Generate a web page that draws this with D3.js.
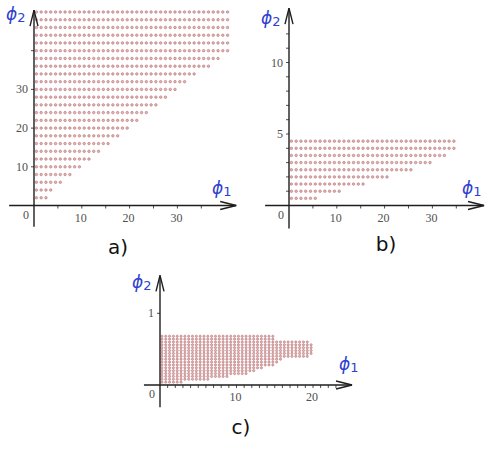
<!DOCTYPE html>
<html>
<head>
<meta charset="utf-8">
<script src="https://cdn.jsdelivr.net/npm/d3@7"></script>
<style>
  html, body { margin: 0; padding: 0; background: #ffffff; }
  svg { display: block; }
</style>
</head>
<body>
<svg id="chart" width="485" height="450"></svg>
<script>
// Panel a: grid rows (phi2) and the phi1 of the last dot in each row
const rowsA = [2, 4, 6, 8, 10, 12, 14, 16, 18, 20, 22, 24, 26, 28, 30, 32, 34, 36, 38, 40, 42, 44, 46, 48, 50];
const lastA = [2.5, 3.5, 5.5, 7.5, 9.5, 11.5, 13.5, 15.5, 17.5, 19.5, 21.5, 23.5, 25.5, 27.5, 29.5, 31.5, 33.5, 36.5, 38.5, 40.5, 40.5, 40.5, 40.5, 40.5, 40.5];
const firstA = 0.5, stepA = 1;

// Panel b
const rowsB = [0.5, 1, 1.5, 2, 2.5, 3, 3.5, 4, 4.5];
const lastB = [5.5, 10.5, 15.5, 20.5, 25.5, 29.5, 32.5, 34.5, 34.5];
const firstB = 0.5, stepB = 1;

// Panel c
const rowsC = [0.04, 0.08, 0.12, 0.16, 0.20, 0.24, 0.28, 0.32, 0.36, 0.40, 0.44, 0.48, 0.52, 0.56, 0.60, 0.64, 0.68];
const lastC = [2.75, 6.25, 8.75, 11.25, 12.25, 13.25, 14.75, 15.25, 15.75, 19.25, 19.75, 19.75, 19.75, 19.75, 19.25, 14.75, 14.75];
const firstC = 0.25, stepC = 0.5;

// Tick values and labels
const xTicksA = [5, 10, 15, 20, 25, 30, 35], xLabelsA = [10, 20, 30];
const yTicksA = [10, 20, 30, 40], yLabelsA = [10, 20, 30];
const xTicksB = [5, 10, 15, 20, 25, 30, 35], xLabelsB = [10, 20, 30];
const yTicksB = [1, 2, 3, 4, 5, 6, 7, 8, 9, 10, 11, 12], yLabelsB = [5, 10];
const xTicksC = d3.range(1, 24), xLabelsC = [10, 20];
const yTicksC = [1], yLabelsC = [1];

const svg = d3.select("#chart");
const AXIS = "#1e1e1e", BLUE = "#2f3fcf", TICKTXT = "#505050";

function drawPanel(p) {
  const x = d3.scaleLinear().domain(p.xDomain).range(p.xRange);
  const y = d3.scaleLinear().domain(p.yDomain).range(p.yRange);
  const g = svg.append("g");

  // lattice points
  const pts = [];
  p.rows.forEach((r, i) => {
    for (let v = p.first; v <= p.last[i] + 1e-9; v += p.step) pts.push([v, r]);
  });
  g.append("g").selectAll("circle").data(pts).join("circle")
    .attr("cx", d => x(d[0])).attr("cy", d => y(d[1]))
    .attr("r", p.r)
    .attr("fill", "#e2b6b6").attr("stroke", "#bd7d80").attr("stroke-width", 0.7);

  const x0 = x(0), y0 = y(0);
  const xEnd = x(p.xDomain[1]), yEnd = y(p.yDomain[1]);
  const xStart = x(p.xMin), yStart = y(p.yMin);

  // axes lines
  g.append("line").attr("x1", xStart).attr("x2", xEnd).attr("y1", y0).attr("y2", y0)
    .attr("stroke", AXIS).attr("stroke-width", 1.4);
  g.append("line").attr("x1", x0).attr("x2", x0).attr("y1", yStart).attr("y2", yEnd)
    .attr("stroke", AXIS).attr("stroke-width", 1.4);

  // open arrowheads
  const L = 16, W = 4;
  g.append("path").attr("d", `M${xEnd - L},${y0 - W}L${xEnd},${y0}L${xEnd - L},${y0 + W}`)
    .attr("fill", "none").attr("stroke", AXIS).attr("stroke-width", 1.4);
  g.append("path").attr("d", `M${x0 - W},${yEnd + L}L${x0},${yEnd}L${x0 + W},${yEnd + L}`)
    .attr("fill", "none").attr("stroke", AXIS).attr("stroke-width", 1.4);

  // ticks
  g.append("g").selectAll("line").data(p.xTicks).join("line")
    .attr("x1", d => x(d)).attr("x2", d => x(d)).attr("y1", y0).attr("y2", y0 + 3)
    .attr("stroke", AXIS).attr("stroke-width", 0.8);
  g.append("g").selectAll("line").data(p.yTicks).join("line")
    .attr("x1", x0 - 3).attr("x2", x0).attr("y1", d => y(d)).attr("y2", d => y(d))
    .attr("stroke", AXIS).attr("stroke-width", 0.8);

  // tick labels
  const tl = g.append("g").attr("font-family", "'Liberation Serif', 'DejaVu Serif', serif")
    .attr("font-size", 12).attr("fill", TICKTXT);
  tl.selectAll("text.xl").data(p.xLabels).join("text").attr("class", "xl")
    .attr("x", d => x(d) - 1).attr("y", y0 + 16).attr("text-anchor", "middle").text(d => d);
  tl.selectAll("text.yl").data(p.yLabels).join("text").attr("class", "yl")
    .attr("x", x0 - 6).attr("y", d => y(d) + 4).attr("text-anchor", "end").text(d => d);
  tl.append("text").attr("x", x0 - 8).attr("y", y0 + 13).attr("text-anchor", "middle").text("0");

  // axis names
  const nm = (tx, ty, sub) => {
    const t = g.append("text").attr("x", tx).attr("y", ty)
      .attr("font-family", "'DejaVu Sans', sans-serif").attr("fill", BLUE);
    t.append("tspan").attr("font-size", 17).attr("font-style", "italic").text("\u03D5");
    t.append("tspan").attr("font-size", 13).attr("dy", 2).text(sub);
  };
  nm(p.n2[0], p.n2[1], "2");
  nm(p.n1[0], p.n1[1], "1");

  // panel tag
  svg.append("text").attr("x", p.tag[0]).attr("y", p.tag[1])
    .attr("font-family", "'DejaVu Sans', sans-serif").attr("font-size", 20)
    .attr("fill", "#111").attr("text-anchor", "middle").text(p.tag[2]);
}

drawPanel({
  xDomain: [0, 42.3], xRange: [34, 34 + 42.3 * 4.78], xMin: -5.2,
  yDomain: [0, 50.5], yRange: [205.5, 205.5 - 50.5 * 3.87], yMin: -5.5,
  rows: rowsA, last: lastA, first: firstA, step: stepA, r: 1.25,
  xTicks: xTicksA, xLabels: xLabelsA, yTicks: yTicksA, yLabels: yLabelsA,
  n2: [6, 20], n1: [212, 194], tag: [118, 254, "a)"]
});
drawPanel({
  xDomain: [0, 40.8], xRange: [289, 289 + 40.8 * 4.78], xMin: -5,
  yDomain: [0, 13.8], yRange: [205.5, 205.5 - 13.8 * 14.3], yMin: -1.6,
  rows: rowsB, last: lastB, first: firstB, step: stepB, r: 1.25,
  xTicks: xTicksB, xLabels: xLabelsB, yTicks: yTicksB, yLabels: yLabelsB,
  n2: [261, 24], n1: [462, 194], tag: [386, 251, "b)"]
});
drawPanel({
  xDomain: [0, 25.1], xRange: [160, 160 + 25.1 * 7.65], xMin: -2.1,
  yDomain: [0, 1.53], yRange: [385, 385 - 1.53 * 71.7], yMin: -0.31,
  rows: rowsC, last: lastC, first: firstC, step: stepC, r: 1.1,
  xTicks: xTicksC, xLabels: xLabelsC, yTicks: yTicksC, yLabels: yLabelsC,
  n2: [132, 288], n1: [339, 370], tag: [241, 434, "c)"]
});
</script>
</body>
</html>
